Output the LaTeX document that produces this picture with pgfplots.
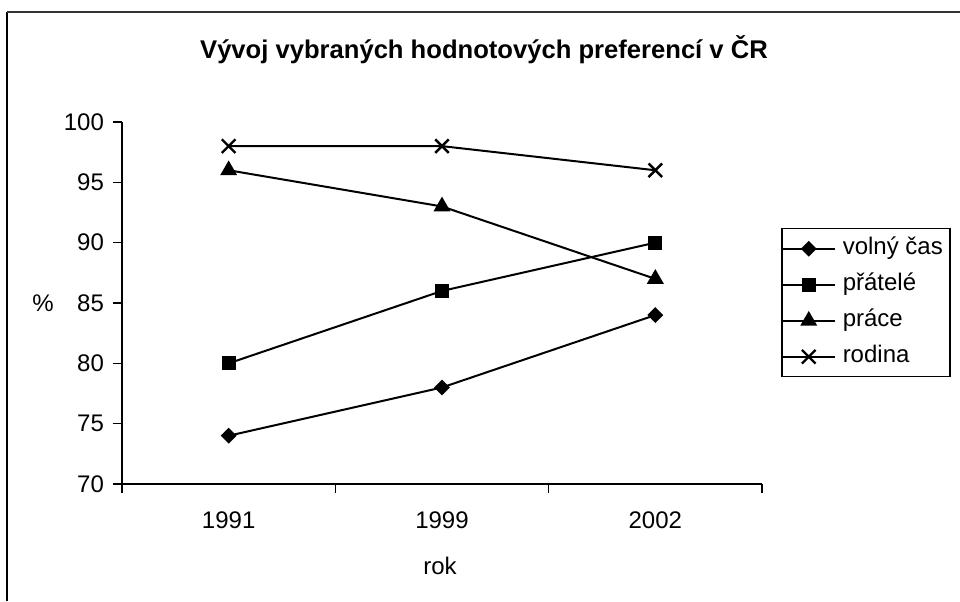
\documentclass[border=0pt]{standalone}
\usepackage{fontspec}
\setmainfont{Liberation Sans}
\usepackage{pgfplots}
\pgfplotsset{compat=1.18}
\begin{document}
\begin{tikzpicture}[x=1pt,y=1pt]
\useasboundingbox (0,0) rectangle (480,300.5);
\draw[line width=1pt,black] (3.5,0) -- (3.5,294.5);
\draw[line width=1pt,black!80] (3.5,294.5) -- (480,294.5);
\node[font=\bfseries\fontsize{12.8}{15}\selectfont] at (242,275.5) {Vývoj vybraných hodnotových preferencí v ČR};
\begin{axis}[
  at={(61pt,58.5pt)}, anchor=south west,
  scale only axis, width=320pt, height=181pt,
  xmin=0, xmax=3, ymin=70, ymax=100,
  axis x line=bottom, axis y line=left,
  axis line style={-, line width=0.75pt},
  xtick={0,1,2,3}, xticklabels={},
  extra x ticks={0.5,1.5,2.5},
  extra x tick labels={1991,1999,2002},
  extra x tick style={major tick length=0pt, tick label style={anchor=center, yshift=-18.25pt}},
  ytick={70,75,...,100},
  major tick length=4.5pt,
  xtick align=outside, ytick align=outside,
  tick style={black, line width=0.75pt},
  tick label style={font=\fontsize{12}{14}\selectfont},
  yticklabel style={anchor=east, xshift=-1pt},
  /pgf/number format/assume math mode=true,
  xlabel={rok}, xlabel style={font=\fontsize{12}{14}\selectfont, at={(rel axis cs:0.497,0)}, anchor=center, yshift=-41pt},
  ylabel={\%}, ylabel style={font=\fontsize{12}{14}\selectfont, rotate=-90, at={(rel axis cs:-0.1234,0.5)}, anchor=center},
  legend style={at={(rel axis cs:1.0297,0.7072)}, anchor=north west, draw=black, line width=0.75pt,
    font=\fontsize{12}{14}\selectfont, row sep=0pt, inner xsep=0pt, inner ysep=1pt,
    nodes={inner xsep=3.5pt, inner ysep=3pt, text height=9pt, text depth=3pt},
    cells={anchor=west}},
  legend cell align=left,
  legend image code/.code={\draw[mark repeat=2,mark phase=2,#1] plot coordinates {(0pt,0pt) (13pt,0pt) (26pt,0pt)};},
  every axis plot/.append style={black, line width=1pt, mark options={solid, fill=black}},
  clip=false,
]
\addplot[mark=square*, mark size=2.3pt, mark options={rotate=45}] coordinates {(0.5,74) (1.5,78) (2.5,84)};
\addlegendentry{volný čas}
\addplot[mark=square*, mark size=3pt] coordinates {(0.5,80) (1.5,86) (2.5,90)};
\addlegendentry{přátelé}
\addplot[mark=triangle*, mark size=3.9pt] coordinates {(0.5,96) (1.5,93) (2.5,87)};
\addlegendentry{práce}
\addplot[mark=x, mark size=4.8pt, mark options={line width=1.2pt}] coordinates {(0.5,98) (1.5,98) (2.5,96)};
\addlegendentry{rodina}
\end{axis}
\end{tikzpicture}
\end{document}
